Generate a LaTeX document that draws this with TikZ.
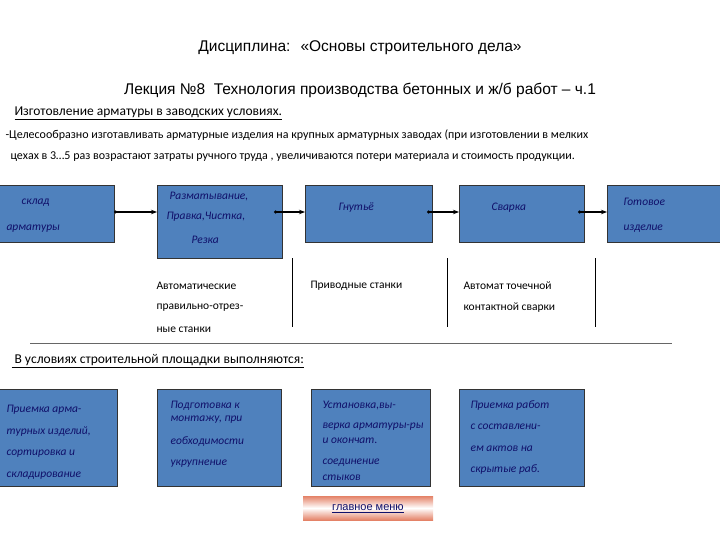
\documentclass[tikz,border=0pt]{standalone}
\usepackage{fontspec}
\setmainfont{Carlito}
\newfontfamily\arl{Liberation Sans}
\usetikzlibrary{arrows.meta}
\definecolor{bx}{HTML}{4F81BD}
\definecolor{tx}{HTML}{10106A}
\begin{document}
\begin{tikzpicture}[x=1pt,y=-1pt,
 box/.style={draw=black!80,fill=bx,line width=0.8pt},
 bt/.style={font=\itshape\fontsize{11.5}{13}\selectfont,text=tx,anchor=west},
 lt/.style={font=\fontsize{11.5}{13}\selectfont,anchor=west},
 ar/.style={line width=1.2pt,{Circle[length=3pt]}-{Stealth[length=6pt]}}]
\useasboundingbox (0,0) rectangle (720,540);
\node[font=\arl\fontsize{15.5}{17}\selectfont] (t1) at (360,48) {Дисциплина: \ «Основы строительного дела»};
\node[font=\arl\fontsize{15.5}{17}\selectfont] (t2) at (360,90) {Лекция №8 \ Технология производства бетонных и ж/б работ – ч.1};
\node[lt,font=\fontsize{13.5}{15}\selectfont] (h1) at (11,113) {\underline{Изготовление арматуры в заводских условиях.}};
\node[lt,font=\fontsize{12}{14}\selectfont] (p1) at (2,135) {-Целесообразно изготавливать арматурные изделия на крупных арматурных заводах (при изготовлении в мелких};
\node[lt,font=\fontsize{12}{14}\selectfont] (p2) at (7,157) {цехах в 3…5 раз возрастают затраты ручного труда , увеличиваются потери материала и стоимость продукции.};
% top boxes
\draw[box] (-1,185) rectangle (114,242);
\draw[box] (157,185) rectangle (282,258);
\draw[box] (305,185) rectangle (432,242);
\draw[box] (459,185) rectangle (584,242);
\draw[box] (607,185) rectangle (721,242);
\coordinate (a1) at (114,212); \coordinate (a2) at (157,212);
\coordinate (a3) at (274,212); \coordinate (a4) at (305,212);
\coordinate (a5) at (427,212); \coordinate (a6) at (459,212);
\coordinate (a7) at (578,212); \coordinate (a8) at (607,212);
\draw[ar] (a1) -- (a2); \draw[ar] (a3) -- (a4); \draw[ar] (a5) -- (a6); \draw[ar] (a7) -- (a8);
\node[bt] (s1) at (18,203) {склад};
\node[bt] (s2) at (3,229) {арматуры};
\node[bt] (r1) at (166,197) {Разматывание,};
\node[bt] (r2) at (163,217) {Правка,Чистка,};
\node[bt] (r3) at (188,240) {Резка};
\node[bt] (g1) at (335,208) {Гнутьё};
\node[bt] (c1) at (488,208) {Сварка};
\node[bt] (f1) at (620,202) {Готовое};
\node[bt] (f2) at (620,229) {изделие};
\node[lt] (l1) at (153,286) {Автоматические};
\node[lt] (l2) at (153,308) {правильно-отрез-};
\node[lt] (l3) at (153,330) {ные станки};
\node[lt] (l4) at (307,286) {Приводные станки};
\node[lt] (l5) at (460,286) {Автомат точечной};
\node[lt] (l6) at (460,308) {контактной сварки};
\coordinate (v1) at (292,258); \coordinate (v1e) at (292,327);
\coordinate (v2) at (447,258); \coordinate (v2e) at (447,327);
\coordinate (v3) at (595,258); \coordinate (v3e) at (595,327);
\draw[line width=0.5pt] (v1)--(v1e) (v2)--(v2e) (v3)--(v3e);
\coordinate (hl) at (30,343); \coordinate (hr) at (672,343);
\draw[line width=0.5pt,black!60] (hl)--(hr);
\node[lt,font=\fontsize{13.5}{15}\selectfont] (h2) at (8,361) {\underline{\ В условиях строительной площадки выполняются:}};
% bottom boxes
\draw[box] (-1,389) rectangle (117,486);
\draw[box] (157,389) rectangle (281,486);
\draw[box] (311,389) rectangle (430,486);
\draw[box] (459,389) rectangle (584,486);
\node[bt] (q1) at (3,410) {Приемка арма-};
\node[bt] (q2) at (3,432) {турных изделий,};
\node[bt] (q3) at (3,454) {сортировка и};
\node[bt] (q4) at (3,476) {складирование};
\node[bt] (w1) at (167,406) {Подготовка к};
\node[bt] (w2) at (167,420) {монтажу, при};
\node[bt] (w3) at (167,442) {еобходимости};
\node[bt] (w4) at (167,464) {укрупнение};
\node[bt] (e1) at (319,406) {Установка,вы-};
\node[bt] (e2) at (319,427) {верка арматуры-ры};
\node[bt] (e3) at (319,441) {и окончат.};
\node[bt] (e4) at (319,463) {соединение};
\node[bt] (e5) at (319,478) {стыков};
\node[bt] (u1) at (467,406) {Приемка работ};
\node[bt] (u2) at (467,427) {с составлени-};
\node[bt] (u3) at (467,449) {ем актов на};
\node[bt] (u4) at (467,470) {скрытые раб.};
\shade[top color=red!40!brown!70,bottom color=red!40!brown!70,middle color=white] (303,496) rectangle (433,520);
\node[font=\arl\fontsize{11}{13}\selectfont,text=tx] (m) at (368,509) {\underline{главное меню}};
\end{tikzpicture}
\end{document}
